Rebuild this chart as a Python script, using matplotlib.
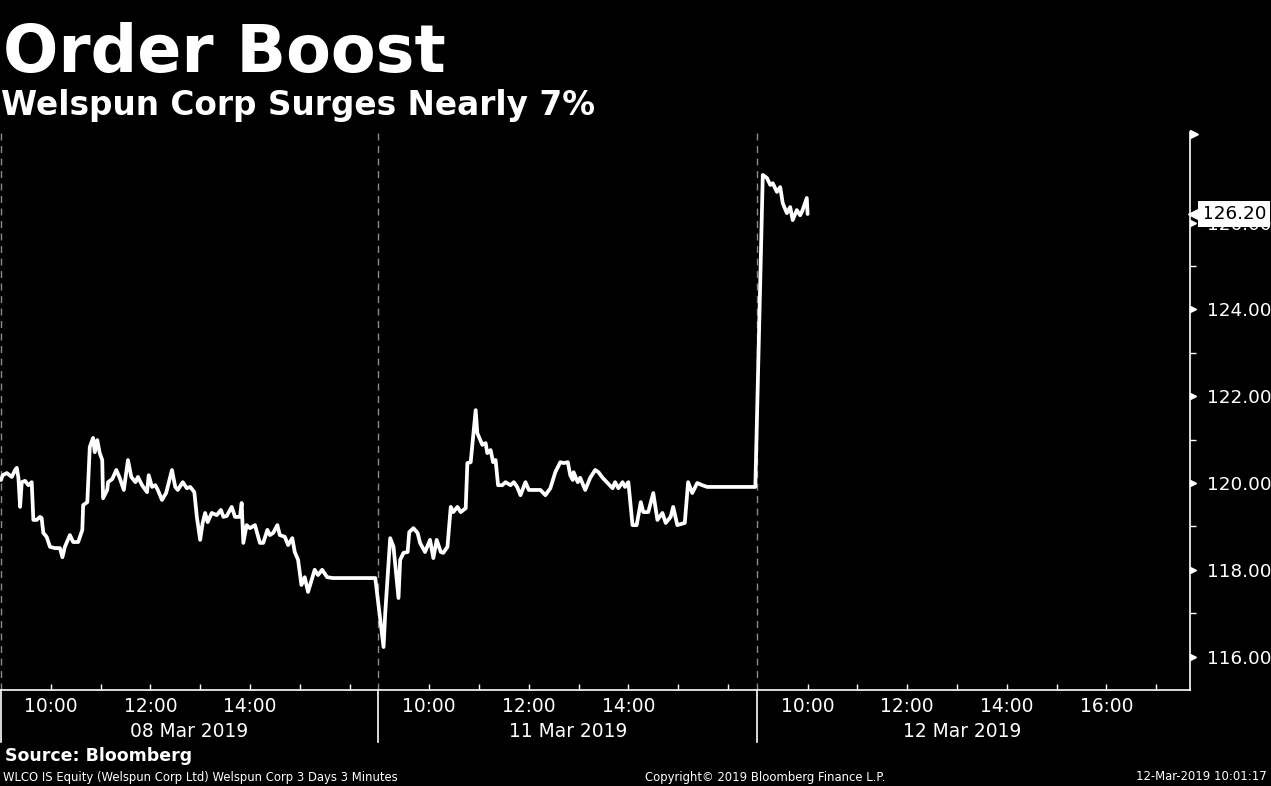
import matplotlib
matplotlib.use("Agg")
import matplotlib.pyplot as plt
import matplotlib.transforms as mtransforms

# ---------------- data ----------------
title = "Order Boost"
subtitle = "Welspun Corp Surges Nearly 7%"
source = "Source: Bloomberg"
footer_left = "WLCO IS Equity (Welspun Corp Ltd) Welspun Corp 3 Days 3 Minutes"
footer_mid = "Copyright\u00a9 2019 Bloomberg Finance L.P."
footer_right = "12-Mar-2019 10:01:17"

day_labels = ["08 Mar 2019", "11 Mar 2019", "12 Mar 2019"]

# minutes after 09:00 for each day, and prices (INR)
day1_min = [0, 2, 7, 13, 17, 19, 21, 23, 25, 29,
            33, 37, 39, 43, 47, 49, 51, 55, 59, 65,
            71, 74, 77, 83, 87, 93, 98, 99, 104, 107,
            111, 113, 116, 119, 122, 123, 128, 129, 134, 139,
            143, 148, 153, 157, 162, 165, 170, 176, 178, 182,
            186, 189, 194, 199, 206, 210, 213, 219, 224, 228,
            233, 236, 240, 243, 246, 249, 254, 260, 265, 268,
            272, 278, 282, 288, 290, 292, 296, 300, 306, 312,
            316, 321, 324, 328, 333, 336, 342, 346, 351, 354,
            358, 362, 366, 370, 375, 378, 382, 387, 393, 400,
            451]
day1_px = [120.07, 120.18, 120.23, 120.14, 120.30, 120.35, 120.12, 119.45, 120.02, 120.05,
           119.95, 120.02, 119.15, 119.15, 119.22, 119.19, 118.85, 118.76, 118.53, 118.50,
           118.50, 118.29, 118.53, 118.80, 118.64, 118.64, 118.92, 119.49, 119.56, 120.83,
           121.04, 120.71, 120.99, 120.69, 120.53, 119.65, 119.84, 120.02, 120.09, 120.30,
           120.12, 119.84, 120.53, 120.14, 120.02, 120.14, 119.95, 119.79, 120.18, 119.91,
           119.95, 119.84, 119.61, 119.77, 120.30, 119.91, 119.84, 120.02, 119.88, 119.91,
           119.79, 119.22, 118.69, 119.08, 119.31, 119.10, 119.31, 119.26, 119.38, 119.22,
           119.24, 119.45, 119.22, 119.22, 119.54, 118.62, 119.03, 118.96, 119.03, 118.62,
           118.62, 118.92, 118.80, 118.85, 119.03, 118.80, 118.76, 118.57, 118.73, 118.41,
           118.23, 117.65, 117.83, 117.49, 117.81, 118.00, 117.88, 118.00, 117.83, 117.81,
           117.81]

day2_min = [5, 7, 13, 17, 23, 25, 29, 34, 36, 41,
            46, 49, 55, 61, 65, 69, 74, 77, 82, 86,
            89, 94, 98, 104, 106, 110, 116, 118, 124, 128,
            130, 134, 137, 140, 143, 148, 152, 158, 162, 166,
            170, 176, 180, 184, 194, 200, 206, 212, 218, 222,
            227, 230, 233, 234, 239, 242, 248, 254, 260, 264,
            269, 275, 281, 284, 288, 293, 296, 300, 305, 310,
            315, 318, 324, 330, 335, 341, 345, 351, 354, 359,
            368, 372, 377, 383, 389, 395, 453]
day2_px = [116.22, 117.00, 118.73, 118.53, 117.35, 118.23, 118.39, 118.41, 118.87, 118.96,
           118.85, 118.62, 118.41, 118.69, 118.27, 118.69, 118.41, 118.39, 118.53, 119.45,
           119.33, 119.45, 119.33, 119.42, 120.46, 120.48, 121.68, 121.15, 120.88, 120.92,
           120.69, 120.76, 120.48, 120.53, 119.95, 119.95, 120.02, 119.95, 120.02, 119.91,
           119.72, 120.02, 119.84, 119.84, 119.84, 119.72, 119.88, 120.25, 120.48, 120.46,
           120.48, 120.18, 120.07, 120.25, 120.02, 120.12, 119.84, 120.12, 120.30, 120.25,
           120.12, 120.00, 119.88, 120.02, 119.88, 120.02, 119.91, 120.02, 119.03, 119.03,
           119.56, 119.33, 119.33, 119.77, 119.15, 119.31, 119.08, 119.22, 119.45, 119.03,
           119.08, 120.02, 119.77, 120.00, 119.95, 119.91, 119.91]

day3_min = [6, 11, 15, 18, 23, 27, 30, 35, 39, 42,
            47, 51, 54, 59, 60]
day3_px = [127.10, 127.03, 126.87, 126.91, 126.71, 126.82, 126.45, 126.22, 126.36, 126.06,
           126.29, 126.17, 126.29, 126.57, 126.20]

last_price = 126.20
y_ticks = [116, 118, 120, 122, 124, 126]
y_minor = [117, 119, 121, 123, 125]
hour_ticks = [[10, 11, 12, 13, 14, 15, 16],
              [10, 11, 12, 13, 14, 15, 16],
              [10, 11, 12, 13, 14, 15, 16, 17]]
hour_labels = [[10, 12, 14], [10, 12, 14], [10, 12, 14, 16]]

# ---------------- layout ----------------
DAY = 7.6          # width of one session on the compressed axis (hours)
W, H = 1271, 786
FONT = "DejaVu Sans"
plt.rcParams["font.family"] = [FONT]

fig = plt.figure(figsize=(W / 100, H / 100), dpi=100, facecolor="black")
ax = fig.add_axes([0, 1 - 690 / H, 1190 / W, (690 - 132) / H])
ax.set_facecolor("black")

xs, ys = [], []
for k, (mins, prices) in enumerate([(day1_min, day1_px), (day2_min, day2_px), (day3_min, day3_px)]):
    xs += [k * DAY + m / 60.0 for m in mins]
    ys += prices
ax.plot(xs, ys, color="white", lw=2.7, zorder=5, solid_capstyle="round")

ax.set_xlim(-0.02, 23.88)
ax.set_ylim(115.23, 128.09)

for s in ["top", "left"]:
    ax.spines[s].set_visible(False)
for s in ["bottom", "right"]:
    ax.spines[s].set_color("white")
    ax.spines[s].set_linewidth(1.2)

# day separators
trans_xa = mtransforms.blended_transform_factory(ax.transData, ax.transAxes)
for k in range(3):
    bx = k * DAY - 0.02 if k else 0.0
    ax.axvline(bx, color="#8a8a8a", lw=1, ls=(0, (5, 4)), zorder=1)
    ax.plot([bx, bx], [0, -0.093], transform=trans_xa, color="white", lw=1.2, clip_on=False)

# x ticks
tick_pos, tick_lab = [], []
for k in range(3):
    for h in hour_ticks[k]:
        tick_pos.append(k * DAY + (h - 9))
        tick_lab.append(f"{h}:00" if h in hour_labels[k] else "")
ax.set_xticks(tick_pos)
ax.set_xticklabels(tick_lab)
ax.tick_params(axis="x", direction="in", length=4, width=1, color="white",
               labelcolor="white", labelsize=13.4, pad=5)

centers = [3.78, DAY + 3.79, 2 * DAY + 4.1]
for c, lab in zip(centers, day_labels):
    ax.text(c, -0.0735, lab, transform=trans_xa, ha="center", va="center",
            color="white", fontsize=13.4, clip_on=False)

# y axis on right
ax.yaxis.tick_right()
ax.set_yticks(y_ticks)
ax.set_yticklabels([f"{v:.2f}" for v in y_ticks])
ax.set_yticks(y_minor, minor=True)
ax.tick_params(axis="y", which="major", length=0, pad=12, labelcolor="white", labelsize=13.2)
ax.tick_params(axis="y", which="minor", length=4, width=1, color="white", direction="out")

trans_ay = mtransforms.blended_transform_factory(ax.transAxes, ax.transData)
tri = mtransforms.offset_copy(trans_ay, fig=fig, x=3, y=0, units="dots")
ax.plot([1.0] * len(y_ticks), y_ticks, ls="none", marker=">", ms=5, color="white",
        transform=tri, clip_on=False)
flag = mtransforms.offset_copy(ax.transAxes, fig=fig, x=4, y=-2, units="dots")
ax.plot([1.0], [1.0], ls="none", marker=">", ms=6, color="white", transform=flag, clip_on=False)

# last price tag (covers most of the 126.00 label, as in the original)
tag_txt = mtransforms.offset_copy(trans_ay, fig=fig, x=12, y=0, units="dots")
ax.text(1.0, last_price, f"{last_price:.2f}", transform=tag_txt, ha="left", va="center",
        color="black", fontsize=13.2, zorder=10, clip_on=False,
        bbox=dict(boxstyle="square,pad=0.2", fc="white", ec="none"))
tag_tri = mtransforms.offset_copy(trans_ay, fig=fig, x=6, y=0, units="dots")
ax.plot([1.0], [last_price], ls="none", marker="<", ms=11, color="white",
        transform=tag_tri, clip_on=False, zorder=11)

# titles and footer
fig.text(0.002, 1 - 72 / H, title, color="white", fontsize=47, fontweight="bold",
         ha="left", va="baseline")
fig.text(0.001, 1 - 115 / H, subtitle, color="white", fontsize=23.6, fontweight="bold",
         ha="left", va="baseline")
fig.text(5 / W, 1 - 756 / H, source, color="white", fontsize=12.5, fontweight="bold",
         ha="left", va="center")
fig.text(3 / W, 1 - 777 / H, footer_left, color="white", fontsize=8.4, ha="left", va="center")
fig.text(765 / W, 1 - 777 / H, footer_mid, color="white", fontsize=8.4, ha="center", va="center")
fig.text(1267 / W, 1 - 777 / H, footer_right, color="white", fontsize=8.4, ha="right", va="center")

fig.savefig("out.png", dpi=100, facecolor="black")
